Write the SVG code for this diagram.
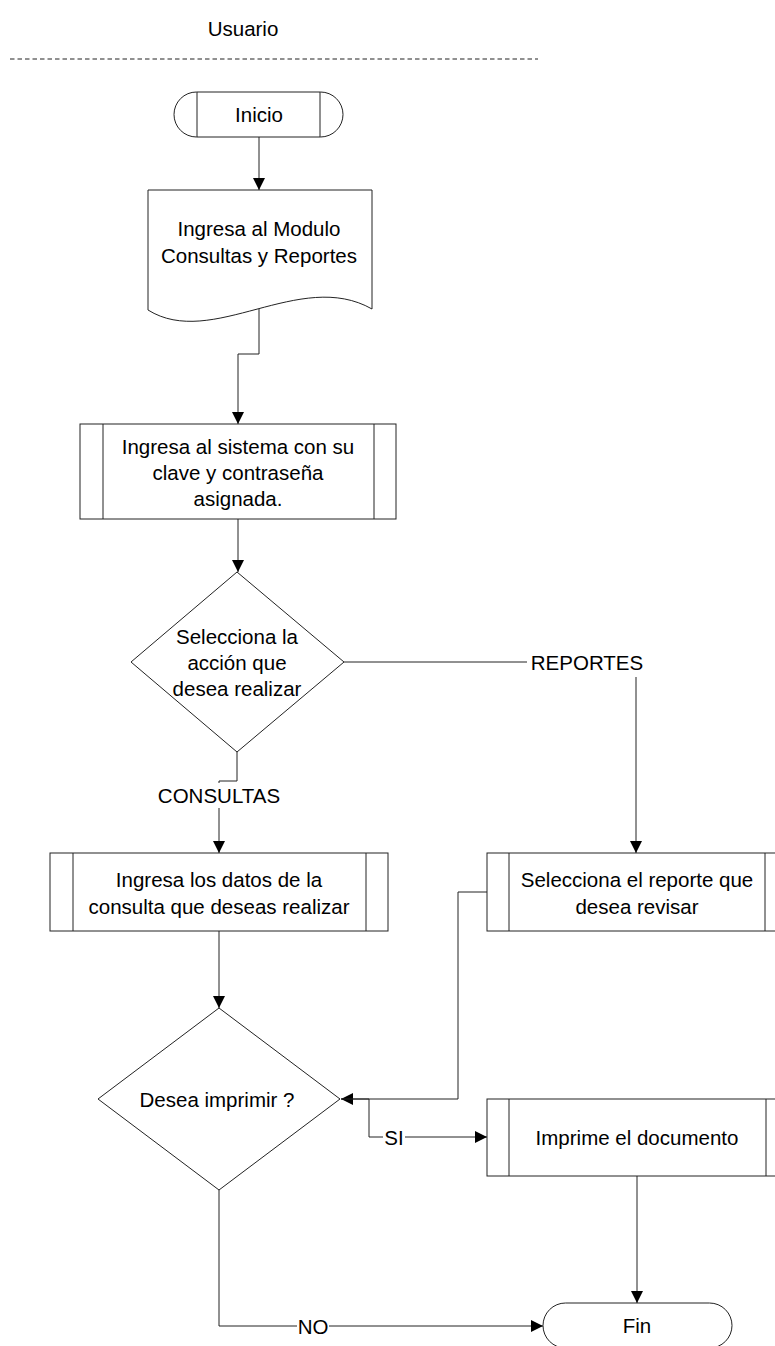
<svg xmlns="http://www.w3.org/2000/svg" width="775" height="1346" viewBox="0 0 775 1346">
<style>
.shape{fill:#fff;stroke:#222;stroke-width:1}
.inner{fill:none;stroke:#222;stroke-width:1}
.conn{fill:none;stroke:#222;stroke-width:1}
.t{font-family:"Liberation Sans",Arial,sans-serif;font-size:20.5px;fill:#000;text-anchor:middle;dominant-baseline:central}
.lblbg{fill:#fff;stroke:none}
</style>
<defs>
<marker id="arr" viewBox="0 0 12 12" refX="12" refY="6" markerWidth="12" markerHeight="12" markerUnits="userSpaceOnUse" orient="auto">
<path d="M0,0 L12,6 L0,12 z" fill="#000"/>
</marker>
</defs>
<rect width="775" height="1346" fill="#fff"/>
<g id="header">
<text class="t" x="243" y="28">Usuario</text>
<line x1="10" y1="59" x2="538" y2="59" stroke="#222" stroke-width="1" stroke-dasharray="4.5,3"/>
</g>
<g id="connectors">
<path class="conn" d="M259,137 V190" marker-end="url(#arr)"/>
<path class="conn" d="M259,309 V354 H238 V424" marker-end="url(#arr)"/>
<path class="conn" d="M238,519 V572" marker-end="url(#arr)"/>
<path class="conn" d="M344,662 H636 V853" marker-end="url(#arr)"/>
<path class="conn" d="M237,752 V781 H219 V853" marker-end="url(#arr)"/>
<path class="conn" d="M219,931 V1008" marker-end="url(#arr)"/>
<path class="conn" d="M487,892 H458 V1099 H341" marker-end="url(#arr)"/>
<path class="conn" d="M341,1099 H369 V1137 H487" marker-end="url(#arr)"/>
<path class="conn" d="M637,1176 V1303" marker-end="url(#arr)"/>
<path class="conn" d="M219,1190 V1326 H543" marker-end="url(#arr)"/>
<rect class="lblbg" x="527" y="650" width="120" height="27"/>
<text class="t" x="587" y="662">REPORTES</text>
<rect class="lblbg" x="154" y="783" width="130" height="25"/>
<text class="t" x="219" y="795">CONSULTAS</text>
<rect class="lblbg" x="383" y="1126" width="22" height="22"/>
<text class="t" x="394" y="1137">SI</text>
<rect class="lblbg" x="297" y="1315" width="32" height="22"/>
<text class="t" x="313" y="1326">NO</text>
</g>
<g id="inicio">
<rect class="shape" x="174" y="92" width="169" height="45" rx="22.5" ry="22.5"/>
<line class="inner" x1="197" y1="92" x2="197" y2="137"/>
<line class="inner" x1="320" y1="92" x2="320" y2="137"/>
<text class="t" x="259" y="114">Inicio</text>
</g>
<g id="modulo">
<path class="shape" d="M148,190 H372 V309 C300,268 212,350 148,310 Z"/>
<text class="t" x="259" y="228">Ingresa al Modulo</text>
<text class="t" x="259" y="255">Consultas y Reportes</text>
</g>
<g id="sistema">
<rect class="shape" x="80" y="424" width="316" height="95"/>
<line class="inner" x1="103" y1="424" x2="103" y2="519"/>
<line class="inner" x1="374" y1="424" x2="374" y2="519"/>
<text class="t" x="238" y="446">Ingresa al sistema con su</text>
<text class="t" x="238" y="472">clave y contraseña</text>
<text class="t" x="238" y="498">asignada.</text>
</g>
<g id="accion">
<path class="shape" d="M237,572 L344,662 L237,752 L131,662 Z"/>
<text class="t" x="237" y="636">Selecciona la</text>
<text class="t" x="237" y="662">acción que</text>
<text class="t" x="237" y="688">desea realizar</text>
</g>
<g id="consulta">
<rect class="shape" x="50" y="853" width="338" height="78"/>
<line class="inner" x1="73" y1="853" x2="73" y2="931"/>
<line class="inner" x1="366" y1="853" x2="366" y2="931"/>
<text class="t" x="219" y="879">Ingresa los datos de la</text>
<text class="t" x="219" y="906">consulta que deseas realizar</text>
</g>
<g id="reporte">
<rect class="shape" x="487" y="853" width="300" height="78"/>
<line class="inner" x1="509" y1="853" x2="509" y2="931"/>
<line class="inner" x1="765" y1="853" x2="765" y2="931"/>
<text class="t" x="637" y="879">Selecciona el reporte que</text>
<text class="t" x="637" y="906">desea revisar</text>
</g>
<g id="imprimir">
<path class="shape" d="M219,1008 L340,1099 L219,1190 L98,1099 Z"/>
<text class="t" x="217" y="1099">Desea imprimir ?</text>
</g>
<g id="imprime">
<rect class="shape" x="487" y="1099" width="300" height="77"/>
<line class="inner" x1="509" y1="1099" x2="509" y2="1176"/>
<line class="inner" x1="766" y1="1099" x2="766" y2="1176"/>
<text class="t" x="637" y="1137">Imprime el documento</text>
</g>
<g id="fin">
<rect class="shape" x="543" y="1303" width="189" height="45" rx="22.5" ry="22.5"/>
<text class="t" x="637" y="1325">Fin</text>
</g>
</svg>
